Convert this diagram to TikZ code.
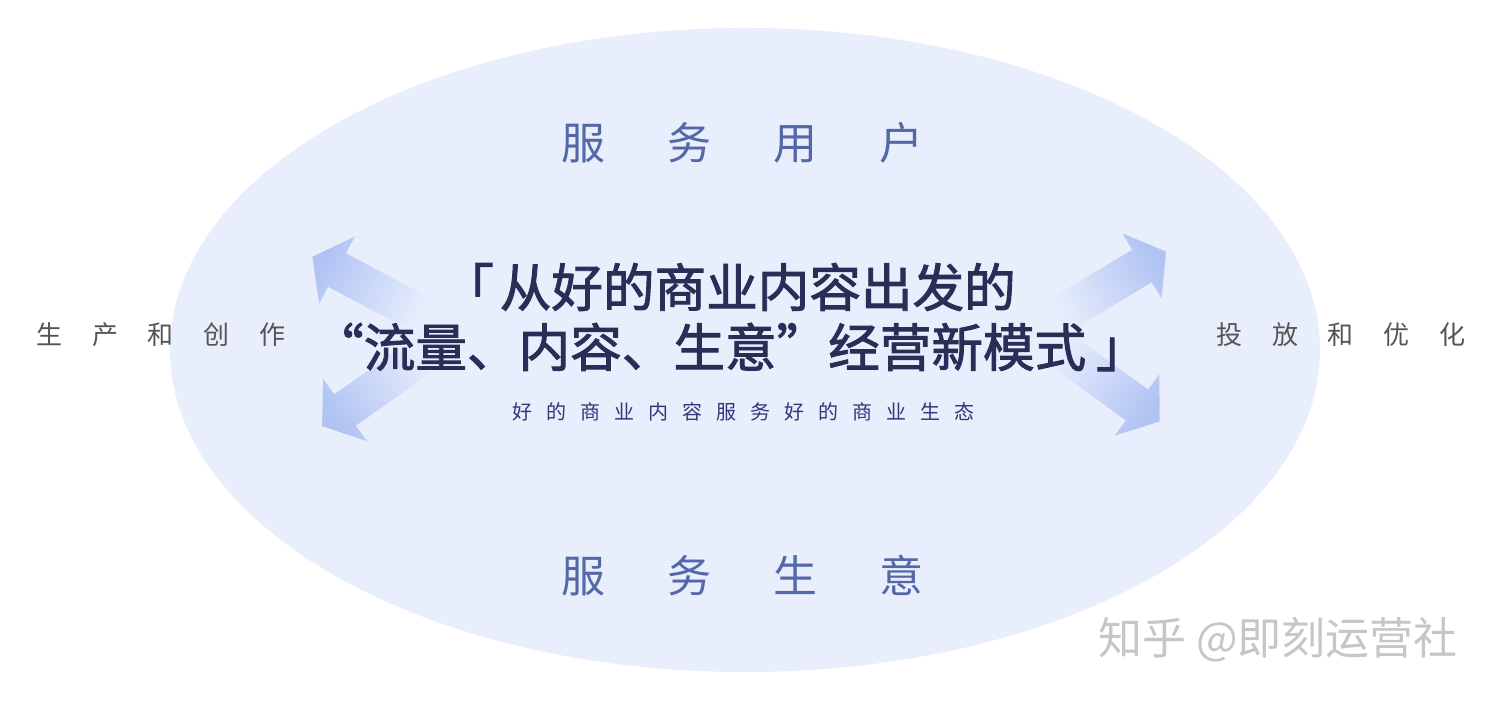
\documentclass[tikz,border=0pt]{standalone}
\usepackage{fontspec}
\setmainfont{Noto Sans CJK SC}
\newfontfamily\titlefont[FakeBold=1.8]{Noto Sans CJK SC}
\usetikzlibrary{positioning}

\definecolor{bgblue}{HTML}{E8EEFC}
\definecolor{arrowblue}{HTML}{B0C3F3}
\definecolor{titlenavy}{HTML}{282E56}
\definecolor{subnavy}{HTML}{2E377A}
\definecolor{serveblue}{HTML}{5468A8}
\definecolor{sidegray}{HTML}{555555}
\definecolor{markgray}{HTML}{C6C6C6}

\begin{document}
\begin{tikzpicture}[x=0.5pt, y=0.5pt]
	\tikzstyle{title} = [text=titlenavy, inner sep=0pt, font=\fontsize{25.8}{30}\titlefont]
	\tikzstyle{slogan} = [text=subnavy, inner sep=0pt, font=\fontsize{10}{12}\selectfont]
	\tikzstyle{serve} = [text=serveblue, inner sep=0pt, font=\fontsize{22}{26}\selectfont]
	\tikzstyle{side} = [text=sidegray, inner sep=0pt, font=\fontsize{13}{16}\selectfont]
	\tikzstyle{watermark} = [text=markgray, inner sep=0pt, font=\fontsize{22}{26}\selectfont]
	\useasboundingbox (0,0) rectangle (1497,701);
	\fill[white] (0,0) rectangle (1497,701);
	\fill[bgblue] (745,351) ellipse [x radius=575, y radius=322];
	% the four arrows
	\foreach \px/\py/\ang in {337/431/152, 345/291/215, 1142/435/31, 1137/296/-36}
	{
	  \begin{scope}[shift={(\px,\py)}, rotate=\ang]
	    \shade[top color=arrowblue, bottom color=bgblue, shading angle=\ang-90]
	    (28,0) -- (0,38) -- (0,19) -- (-100,19) -- (-100,-19) -- (0,-19) -- (0,-38) -- cycle;
	  \end{scope}
	}
	\node[serve] (users) at (742,558) {服\hspace{31pt}务\hspace{31pt}用\hspace{31pt}户};
	\node[serve] (business) at (742,125) {服\hspace{31pt}务\hspace{31pt}生\hspace{31pt}意};
	\node[title] (title1) at (729,414) {「\hspace{3pt}从好的商业内容出发的};
	\node[title] (title2) at (730,354) {“流量、内容、生意”经营新模式\hspace{5pt}」};
	\node[slogan] (slogan) at (743,289) {好\hspace{7pt}的\hspace{7pt}商\hspace{7pt}业\hspace{7pt}内\hspace{7pt}容\hspace{7pt}服\hspace{7pt}务\hspace{7pt}好\hspace{7pt}的\hspace{7pt}商\hspace{7pt}业\hspace{7pt}生\hspace{7pt}态};
	\node[side] (create) at (161,366) {生\hspace{14.8pt}产\hspace{14.8pt}和\hspace{14.8pt}创\hspace{14.8pt}作};
	\node[side] (launch) at (1341,366) {投\hspace{14.8pt}放\hspace{14.8pt}和\hspace{14.8pt}优\hspace{14.8pt}化};
	\node[watermark] (zhihu) at (1278,61) {知乎 @即刻运营社};
\end{tikzpicture}
\end{document}
